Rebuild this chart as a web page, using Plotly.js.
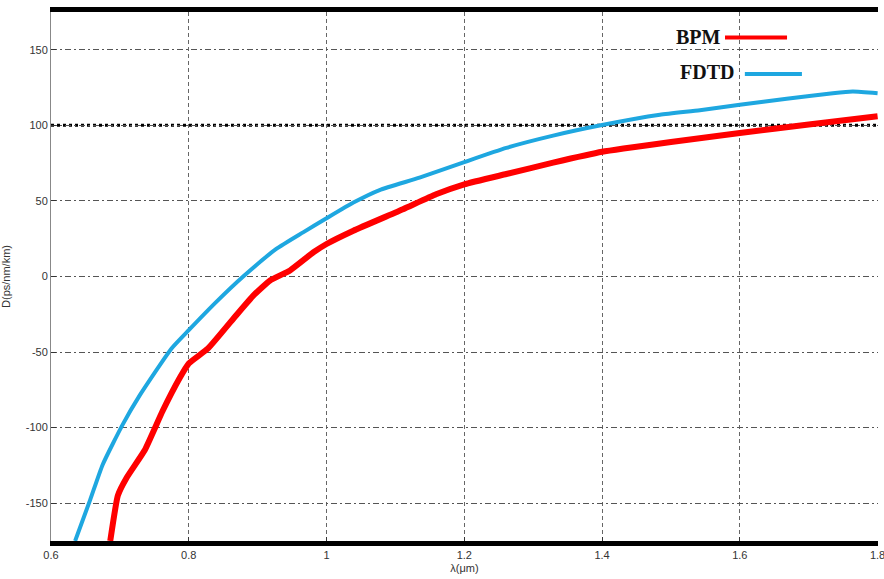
<!DOCTYPE html>
<html>
<head>
<meta charset="utf-8">
<script src="https://cdn.plot.ly/plotly-3.0.1.min.js"></script>
<style>html,body{margin:0;padding:0;background:#fff;}#chart{width:884px;height:579px;}</style>
</head>
<body>
<div id="chart"></div>
<script>
// FDTD series (wavelength in µm, dispersion in ps/nm/km)
const fdtdX = [0.635, 0.657, 0.675, 0.704, 0.729, 0.775, 0.80, 0.84, 0.879, 0.927, 0.966, 1.0, 1.039, 1.077, 1.135, 1.2, 1.261, 1.329, 1.4, 1.484, 1.542, 1.6, 1.668, 1.735, 1.764, 1.8];
const fdtdY = [-175, -147.6, -124.5, -98, -78.5, -47.6, -35.5, -16.8, 0, 18.2, 29.2, 38.5, 48.9, 57.2, 65.4, 75.7, 85.1, 93.2, 100.2, 107, 110, 113.6, 117.6, 121.3, 122.4, 121.3];
// BPM series
const bpmX = [0.686, 0.697, 0.710, 0.736, 0.762, 0.787, 0.80, 0.828, 0.869, 0.894, 0.918, 0.947, 0.981, 1.0, 1.039, 1.111, 1.159, 1.2, 1.261, 1.329, 1.4, 1.5, 1.6, 1.7, 1.8];
const bpmY = [-175, -145, -133, -115, -89, -67, -57.5, -47.6, -25.6, -12.5, -2.6, 4, 16, 21.5, 30.3, 44.5, 54.4, 61, 67.8, 75.3, 82.5, 89, 95, 100.5, 106];
// Tick labels
const xTicks = [0.6, 0.8, 1, 1.2, 1.4, 1.6, 1.8];
const xTickText = ["0.6", "0.8", "1", "1.2", "1.4", "1.6", "1.8"];
const yTicks = [-150, -100, -50, 0, 50, 100, 150];
const yTickText = ["-150", "-100", "-50", "0", "50", "100", "150"];
const seriesNames = ["BPM", "FDTD"];

const tickFont = {family: "Liberation Sans Narrow, Arial Narrow, Liberation Sans, sans-serif", size: 11, color: "#333"};

const traces = [
  {x: bpmX, y: bpmY, mode: "lines", name: seriesNames[0], line: {color: "#ff0000", width: 6, shape: "spline", smoothing: 0.4}},
  {x: fdtdX, y: fdtdY, mode: "lines", name: seriesNames[1], line: {color: "#1ea7e0", width: 4, shape: "spline", smoothing: 0.5}}
];

const layout = {
  width: 884, height: 579,
  margin: {l: 51, r: 6, t: 12, b: 38},
  paper_bgcolor: "#fff", plot_bgcolor: "#fff",
  showlegend: false,
  xaxis: {
    range: [0.6, 1.8006], tickvals: xTicks, ticktext: xTickText,
    ticklabeloverflow: "allow",
    showgrid: true, gridcolor: "#666", griddash: "4px,3px", gridwidth: 1,
    showline: true, linecolor: "#000", linewidth: 5, mirror: true,
    ticks: "inside", ticklen: 4, tickcolor: "#333",
    zeroline: false, tickfont: tickFont,
    title: {text: "λ(μm)", font: {family: "Liberation Sans Narrow, Arial Narrow, sans-serif", size: 11, color: "#333"}, standoff: 6}
  },
  yaxis: {
    range: [-175, 175], tickvals: yTicks, ticktext: yTickText,
    showgrid: true, gridcolor: "#555", griddash: "6px,3px,2px,3px", gridwidth: 1,
    showline: true, linecolor: "#888", linewidth: 1, mirror: false,
    ticks: "inside", ticklen: 5, tickcolor: "#333",
    zeroline: false, tickfont: tickFont,
    title: {text: "D(ps/nm/km)", font: {family: "Liberation Sans Narrow, Arial Narrow, sans-serif", size: 11, color: "#333"}, standoff: 12}
  },
  shapes: [
    {type: "line", xref: "paper", yref: "y", x0: 0, x1: 1, y0: 100, y1: 100, line: {color: "#000", width: 3, dash: "dot"}, layer: "below"},
    {type: "line", xref: "paper", yref: "paper", x0: 0.815, x1: 0.890, y0: 0.952, y1: 0.952, line: {color: "#ff0000", width: 4}},
    {type: "line", xref: "paper", yref: "paper", x0: 0.839, x1: 0.908, y0: 0.883, y1: 0.883, line: {color: "#1ea7e0", width: 4}}
  ],
  annotations: [
    {xref: "paper", yref: "paper", x: 0.812, y: 0.953, xanchor: "right", yanchor: "middle", showarrow: false,
     text: "<b>" + seriesNames[0] + "</b>", font: {family: "Liberation Serif, Times New Roman, serif", size: 20, color: "#111"}},
    {xref: "paper", yref: "paper", x: 0.828, y: 0.887, xanchor: "right", yanchor: "middle", showarrow: false,
     text: "<b>" + seriesNames[1] + "</b>", font: {family: "Liberation Serif, Times New Roman, serif", size: 20, color: "#111"}}
  ]
};

Plotly.newPlot("chart", traces, layout, {displayModeBar: false, staticPlot: true});
</script>
</body>
</html>
